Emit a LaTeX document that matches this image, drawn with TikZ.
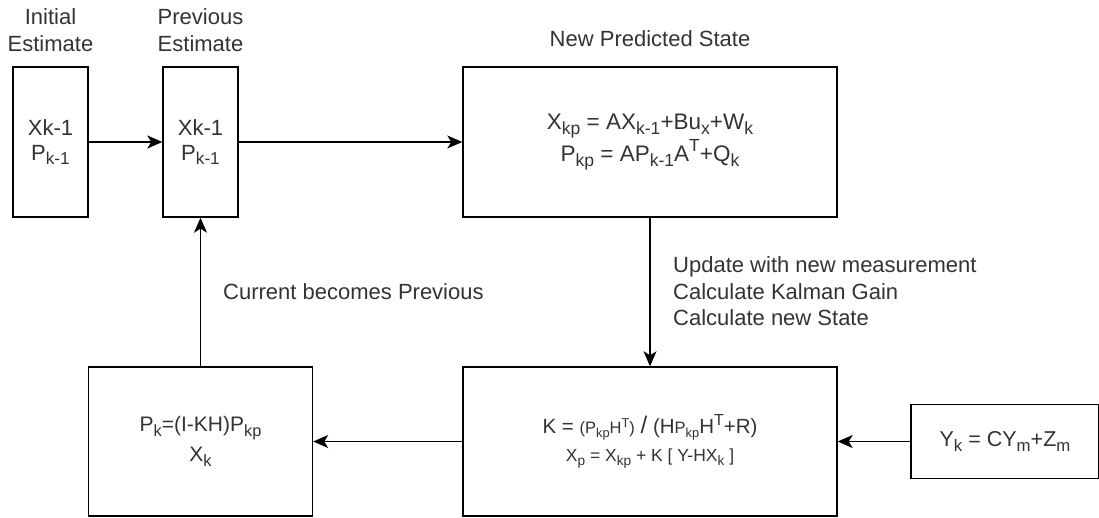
\documentclass[tikz,border=0pt]{standalone}
\usepackage{fontspec}
\setmainfont{Liberation Sans}
\usetikzlibrary{arrows.meta}
\makeatletter
% lowered / raised indices at 78% of the current size
\newcommand\lo[1]{\raisebox{-0.22em}{\fontsize{\fpeval{0.78*\f@size}}{0}\selectfont #1}}
\newcommand\hi[1]{\raisebox{0.42em}{\fontsize{\fpeval{0.78*\f@size}}{0}\selectfont #1}}
\makeatother
\newcommand\fs[2]{\fontsize{#1}{#2}\selectfont}

\begin{document}
\begin{tikzpicture}[x=1pt,y=-1pt,
  box/.style={draw=black, line width=1.4pt, fill=white, text=black!80, align=center, inner sep=0pt},
  lbl/.style={text=black!80, font=\fs{22}{27}, inner sep=0pt},
  flow/.style={line width=1.4pt, -{Stealth[length=15pt,width=13pt,inset=4pt]}}
]
\useasboundingbox (0,0) rectangle (1099,518);

% state boxes
\node[box, minimum width=75pt, minimum height=150pt, font=\fs{22}{25}] (init) at (50.5,142) {Xk-1\\P\lo{k-1}};
\node[box, minimum width=75pt, minimum height=150pt, font=\fs{22}{25}] (prev) at (200.5,142) {Xk-1\\P\lo{k-1}};
\node[box, minimum width=374pt, minimum height=150pt, font=\fs{22.5}{32}] (pred) at (650,142)
  {X\lo{kp} = AX\lo{k-1}+Bu\lo{x}+W\lo{k}\\P\lo{kp} = AP\lo{k-1}A\hi{T}+Q\lo{k}};
\node[box, minimum width=224pt, minimum height=149pt, font=\fs{21}{30}] (cur) at (200.5,441.5)
  {P\lo{k}=(I-KH)P\lo{kp}\\X\lo{k}};
\node[box, minimum width=374pt, minimum height=149pt, font=\fs{20.5}{28}] (upd) at (650,441.5)
  {K = {\fs{16.5}{18}(P\lo{kp}H\hi{T})} {\fs{24}{28}/} (H{\fs{16.5}{18}P\lo{kp}}H\hi{T}+R)\\{\fs{17.5}{28}X\lo{p} = X\lo{kp} + K [ Y-HX\lo{k} ]}};
\node[box, minimum width=188pt, minimum height=74pt, font=\fs{21.5}{25}] (meas) at (1005,441.5)
  {Y\lo{k} = CY\lo{m}+Z\lo{m}};

% labels
\node[lbl, anchor=base, align=center] (linit) at (50.5,52) {Initial\\Estimate};
\node[lbl, anchor=base, align=center] (lprev) at (200.5,52) {Previous\\Estimate};
\node[lbl, anchor=base] (lpred) at (650,47) {New Predicted State};
\node[lbl, anchor=base west] (lcur) at (223,300) {Current becomes Previous};
\node[lbl, anchor=base west, align=left, font=\fs{22}{26}] (lupd) at (673,325)
  {Update with new measurement\\Calculate Kalman Gain\\Calculate new State};

% connectors
\draw[flow] (init) -- (prev);
\draw[flow] (prev) -- (pred);
\draw[flow] (pred) -- (upd);
\draw[flow] (meas) -- (upd);
\draw[flow] (upd) -- (cur);
\draw[flow] (cur) -- (prev);
\end{tikzpicture}
\end{document}
